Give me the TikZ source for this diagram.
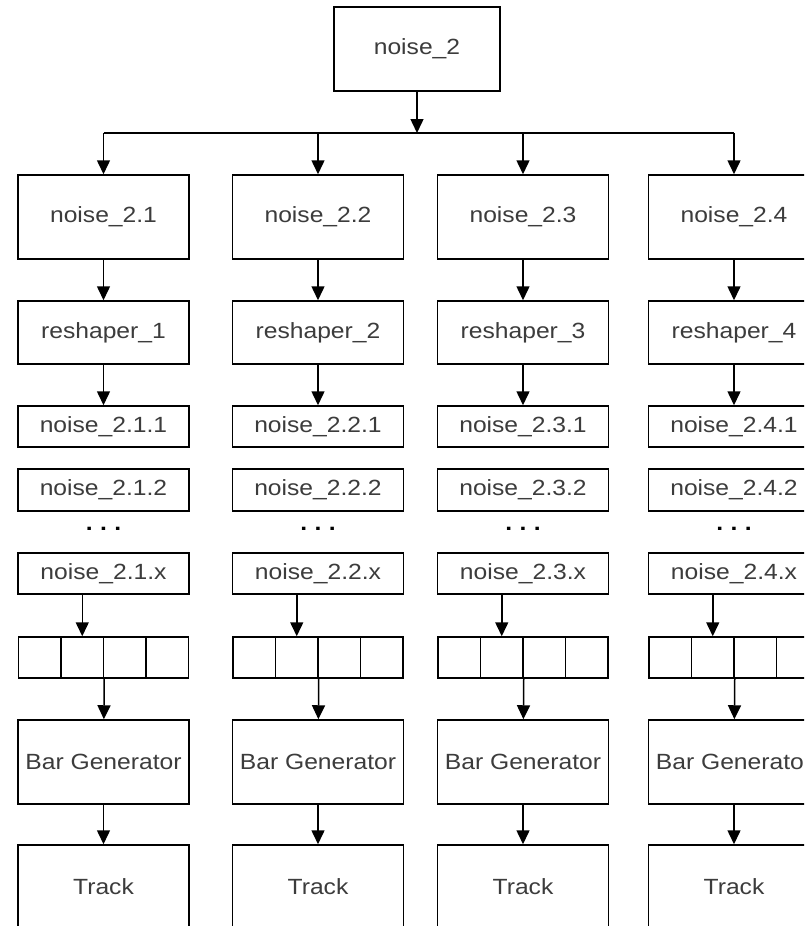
\documentclass[tikz,border=0pt]{standalone}
\usepackage{fontspec}
\setmainfont[FakeStretch=1.12]{Liberation Sans}
\usetikzlibrary{arrows.meta}
\definecolor{txt}{HTML}{3C3C3C}
\begin{document}
\begin{tikzpicture}[x=1pt,y=-1pt,
  box/.style={draw=black, line width=1.5pt, fill=white, minimum width=171pt, inner sep=0pt, text=txt, font=\fontsize{22}{26}\selectfont},
  cell/.style={draw=black, line width=1.5pt, minimum width=42.5pt, minimum height=41pt, inner sep=0pt},
  dotsnode/.style={inner sep=0pt, text=black, font=\fontsize{22}{26}\selectfont\bfseries},
  arr/.style={line width=1.5pt, -{Triangle[width=13pt,length=14pt]}},
  ln/.style={line width=1.5pt}]
\useasboundingbox (0,0) rectangle (804,926);
\clip (0,0) rectangle (804,926);
\node[box, minimum width=166pt, minimum height=84pt] (top) at (417,49) {noise\_2};
\coordinate (hub) at (417,133);
\draw[arr] (top) -- (hub);
\foreach \k/\c in {1/103.5,2/318,3/523,4/734}{
  \node[box, minimum height=84pt] (n\k) at (\c,217) {noise\_2.\k};
  \node[box, minimum height=63pt] (r\k) at (\c,332.5) {reshaper\_\k};
  \node[box, minimum height=41pt] (a\k) at (\c,426.5) {noise\_2.\k.1};
  \node[box, minimum height=42pt] (b\k) at (\c,490) {noise\_2.\k.2};
  \node[dotsnode] (d\k) at (\c,529) {.\,\,.\,\,.};
  \node[box, minimum height=41pt] (x\k) at (\c,573.5) {noise\_2.\k.x};
  \node[cell] (g\k a) at (\c-63.75,657.5) {};
  \node[cell] (g\k b) at (\c-21.25,657.5) {};
  \node[cell] (g\k c) at (\c+21.25,657.5) {};
  \node[cell] (g\k d) at (\c+63.75,657.5) {};
  \node[box, minimum height=84pt] (bg\k) at (\c,762) {Bar Generator};
  \node[box, minimum height=84pt] (t\k) at (\c,887) {Track};
  \draw[arr] (hub -| n\k) -- (n\k);
  \draw[arr] (n\k) -- (r\k);
  \draw[arr] (r\k) -- (a\k);
  \draw[arr] (g\k b.north |- x\k.south) -- (g\k b.north);
  \draw[arr] (g\k b.south east) -- (bg\k);
  \draw[arr] (bg\k) -- (t\k);
}
\draw[ln] (hub -| n1) -- (hub -| n4);
\end{tikzpicture}
\end{document}
